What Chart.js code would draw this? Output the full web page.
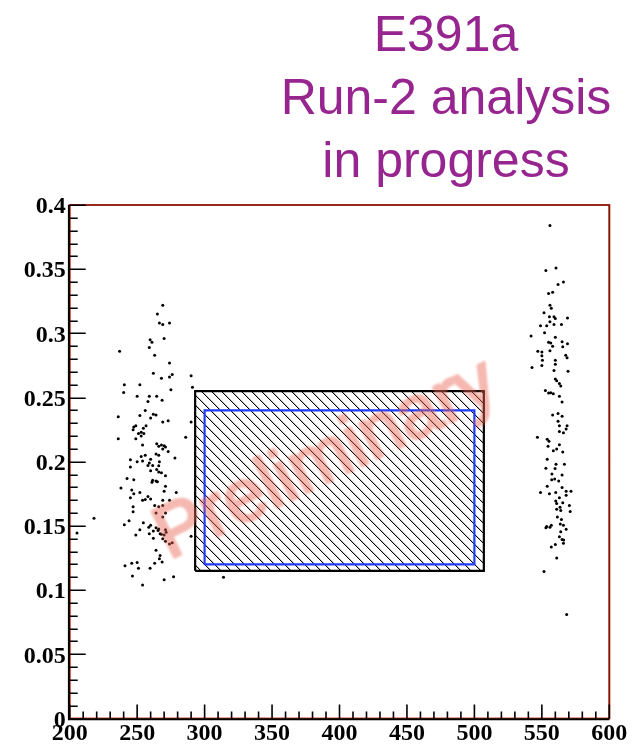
<!DOCTYPE html>
<html>
<head>
<meta charset="utf-8">
<script src="https://cdn.jsdelivr.net/npm/chart.js@4/dist/chart.umd.min.js"></script>
<style>
  html, body { margin: 0; padding: 0; background: #fff; }
  canvas { display: block; }
</style>
</head>
<body>
<canvas id="c" width="634" height="746"></canvas>
<script>
// Axis ticks and labels
const xTicks = [200, 250, 300, 350, 400, 450, 500, 550, 600];
const xTickLabels = ['200', '250', '300', '350', '400', '450', '500', '550', '600'];
const yTicks = [0, 0.05, 0.1, 0.15, 0.2, 0.25, 0.3, 0.35, 0.4];
const yTickLabels = ['0', '0.05', '0.1', '0.15', '0.2', '0.25', '0.3', '0.35', '0.4'];

const titleLines = ['E391a', 'Run-2 analysis', 'in progress'];
const watermark = 'Preliminary';

// Events in the lower sideband
const leftCluster = [
  [269,0.322],[265,0.315],[266.5,0.308],[269,0.307],[274,0.308],[259.6,0.295],[261,0.293],[270,0.296],
  [259,0.289],[237,0.286],[263,0.283],[274,0.277],[262,0.269],[268,0.265],[274,0.266],[276,0.268],
  [290,0.267],[240.5,0.260],[252,0.260],[291,0.258],[240,0.254],[275,0.256],[250,0.251],[259,0.251],
  [264.5,0.251],[268.5,0.248],[258,0.247],[256,0.240],[236,0.235],[252,0.236],[262,0.237],[264,0.2365],
  [260,0.234],[269,0.231],[273,0.232],[290,0.231],[249,0.228],[247.5,0.227],[256.6,0.228],[247,0.225],
  [254.6,0.226],[253,0.223],[251,0.222],[255,0.222],[236,0.218],[249,0.218],[253,0.220],[286,0.219],
  [254,0.213],[264.5,0.214],[268,0.213],[270,0.2125],[266,0.212],[271,0.2115],[269,0.210],[273,0.208],
  [264,0.206],[266,0.205],[256,0.205],[253,0.204],[250,0.200],[278,0.203],[254,0.2005],[260,0.202],
  [259,0.199],[266.5,0.200],[245,0.2015],[245,0.196],[258,0.197],[261.5,0.197],[266,0.1968],[260,0.193],
  [264.5,0.194],[266,0.192],[268,0.1915],[271,0.189],[242.5,0.187],[247.5,0.186],[261.5,0.1855],[264,0.185],
  [265,0.1845],[261,0.184],[238,0.1795],[252,0.176],[270,0.177],[271,0.181],[246,0.178],[247.5,0.175],
  [245,0.172],[258,0.173],[256,0.1705],[254,0.170],[260,0.171],[269,0.170],[274,0.170],[279,0.176],
  [247,0.165],[247,0.161],[263,0.166],[266,0.165],[269,0.166],[264,0.160],[269,0.157],[271,0.160],
  [244,0.154],[240.5,0.151],[254.6,0.1525],[260,0.1505],[258.6,0.149],[264,0.1486],[266,0.1476],[262,0.146],
  [265.5,0.1465],[271,0.147],[252,0.147],[249,0.143],[259,0.144],[267,0.144],[268,0.1435],[270,0.143],
  [271.5,0.145],[262,0.1405],[269,0.140],[271,0.138],[274,0.136],[276,0.137],[290,0.142],[264,0.131],
  [267,0.127],[266.5,0.1245],[268.5,0.122],[263,0.121],[241,0.119],[246,0.121],[250,0.1215],[251,0.117],
  [259.6,0.117],[246.5,0.111],[270,0.108],[277,0.1105],[254,0.104],[314,0.110],[218,0.156],[205.4,0.1445]
];

// Events in the upper sideband
const rightCluster = [
  [556,0.384],[553,0.349],[560.5,0.351],[562,0.338],[566,0.340],[555,0.331],[558,0.332],[556,0.322],
  [557,0.3195],[551.6,0.316],[555.6,0.313],[559,0.313],[560,0.3115],[569,0.312],[556,0.309],[549,0.306],
  [553.6,0.306],[559,0.307],[564.5,0.307],[542,0.298],[552,0.3005],[560,0.297],[555,0.293],[556.6,0.2925],
  [558,0.290],[565,0.2935],[565.5,0.2895],[569,0.292],[547,0.286],[550,0.2855],[550,0.2825],[556,0.2865],
  [567.7,0.283],[568.7,0.281],[550.4,0.279],[560,0.279],[560,0.276],[550,0.275],[542.7,0.2735],[559,0.271],
  [569.4,0.2705],[560,0.2645],[561,0.263],[563,0.261],[564,0.259],[552.6,0.2555],[555,0.2535],[556.6,0.2538],
  [558.5,0.253],[563,0.251],[565,0.2465],[558,0.2365],[562,0.2375],[565,0.2355],[562,0.2315],[563,0.228],
  [568.7,0.228],[568,0.2255],[563,0.2235],[566,0.2225],[546.7,0.219],[554,0.2175],[555.3,0.216],[554.6,0.212],
  [563,0.2133],[561,0.210],[558.5,0.2086],[565.5,0.2075],[554,0.202],[560.5,0.198],[566.7,0.198],[553,0.195],
  [559.8,0.1948],[557.5,0.1905],[565,0.1897],[557.3,0.186],[559.5,0.1865],[562.5,0.185],[554,0.181],[565,0.180],
  [549,0.176],[555.6,0.175],[560.3,0.176],[568,0.177],[571.6,0.177],[568,0.174],[563,0.172],[560.3,0.1695],
  [565.5,0.168],[561,0.1675],[563.5,0.1645],[570.4,0.166],[561,0.163],[564,0.162],[571,0.1613],[561.5,0.157],
  [564.5,0.155],[563.7,0.1515],[566,0.1505],[557,0.1505],[556,0.149],[553.6,0.1495],[553,0.1485],[568,0.1475],
  [564,0.1455],[563,0.1415],[565,0.1395],[566.2,0.139],[566,0.1365],[560,0.1355],[557,0.1335],[561,0.125],
  [551.6,0.1145],[568.4,0.081]
];

// Blind region (hatched) and signal region (blue)
const blindBoxX = [293, 507];
const blindBoxY = [0.115, 0.255];
const signalBoxX = [300, 500];
const signalBoxY = [0.12, 0.24];

const toPoints = arr => arr.map(([x, y]) => ({ x, y }));
const rectPath = (xs, ys) => [
  { x: xs[0], y: ys[0] }, { x: xs[0], y: ys[1] }, { x: xs[1], y: ys[1] },
  { x: xs[1], y: ys[0] }, { x: xs[0], y: ys[0] }
];

const canvas = document.getElementById('c');
const mainCtx = canvas.getContext('2d');

// 45-degree "\" hatch built from a pixel staircase so the lines stay crisp
function hatchPattern() {
  const s = 10;
  const tile = document.createElement('canvas');
  tile.width = s; tile.height = s;
  const g = tile.getContext('2d');
  for (let i = 0; i < s; i++) {
    g.fillStyle = '#000';
    g.fillRect(i, i, 1, 1);
    g.fillStyle = 'rgba(0,0,0,0.25)';
    g.fillRect((i + 1) % s, i, 1, 1);
  }
  return mainCtx.createPattern(tile, 'repeat');
}

const TITLE_FONT = '"Liberation Sans", Arial, sans-serif';
const LABEL_FONT = { family: '"Liberation Serif", "Times New Roman", serif', size: 24, weight: 'bold' };

// Frame, axis lines and inward ticks
const frameAndTicks = {
  id: 'frameAndTicks',
  afterDatasetsDraw(chart) {
    const { ctx, chartArea: a, scales: { x, y } } = chart;
    ctx.save();
    ctx.lineCap = 'butt';
    ctx.strokeStyle = '#d2402a';
    ctx.lineWidth = 2.2;
    ctx.beginPath();
    ctx.moveTo(a.left, a.bottom + 1);
    ctx.lineTo(a.left, a.top);
    ctx.lineTo(a.right, a.top);
    ctx.lineTo(a.right, a.bottom);
    ctx.lineTo(a.left, a.bottom);
    ctx.stroke();
    ctx.strokeStyle = '#4a1008';
    ctx.lineWidth = 0.9;
    ctx.beginPath();
    ctx.moveTo(a.left, a.top);
    ctx.lineTo(a.right, a.top);
    ctx.lineTo(a.right, a.bottom);
    ctx.stroke();
    // axis lines
    ctx.strokeStyle = '#000';
    ctx.lineWidth = 2;
    ctx.beginPath();
    ctx.moveTo(a.left - 0.8, a.top);
    ctx.lineTo(a.left - 0.8, a.bottom + 0.8);
    ctx.lineTo(a.right, a.bottom + 0.8);
    ctx.stroke();
    // inward ticks, four minor divisions per labelled step
    ctx.lineWidth = 1.6;
    ctx.beginPath();
    const yMin = yTicks[0], yMax = yTicks[yTicks.length - 1];
    const yStep = (yTicks[1] - yTicks[0]) / 5;
    for (let i = 0; yMin + i * yStep <= yMax + 1e-9; i++) {
      const py = Math.round(y.getPixelForValue(yMin + i * yStep)) + 0.2;
      const len = i % 5 === 0 ? 16 : 8;
      ctx.moveTo(a.left, py);
      ctx.lineTo(a.left + len, py);
    }
    const xMin = xTicks[0], xMax = xTicks[xTicks.length - 1];
    const xStep = (xTicks[1] - xTicks[0]) / 5;
    for (let i = 0; xMin + i * xStep <= xMax + 1e-9; i++) {
      const px = x.getPixelForValue(xMin + i * xStep);
      const len = i % 5 === 0 ? 14 : 7;
      ctx.moveTo(px, a.bottom);
      ctx.lineTo(px, a.bottom - len);
    }
    ctx.stroke();
    ctx.restore();
  }
};

// Header text and the diagonal watermark
const annotations = {
  id: 'annotations',
  afterDraw(chart) {
    const { ctx, chartArea: a, width, height } = chart;
    ctx.save();
    ctx.fillStyle = '#97258f';
    ctx.font = `50px ${TITLE_FONT}`;
    ctx.textAlign = 'center';
    ctx.textBaseline = 'alphabetic';
    const cx = 446;
    titleLines.forEach((t, i) => ctx.fillText(t, cx, 51 + i * 63));
    ctx.restore();

    // watermark is drawn opaque off-screen, then laid over with transparency
    const off = document.createElement('canvas');
    off.width = width; off.height = height;
    const g = off.getContext('2d');
    const ox = a.left + 0.184 * (a.right - a.left);
    const oy = a.top + 0.691 * (a.bottom - a.top);
    g.translate(ox, oy);
    g.rotate(-26 * Math.PI / 180);
    g.font = `74px ${TITLE_FONT}`;
    g.textAlign = 'left';
    g.textBaseline = 'alphabetic';
    g.fillStyle = 'rgb(232, 100, 82)';
    g.strokeStyle = 'rgb(232, 100, 82)';
    g.lineWidth = 3;
    g.lineJoin = 'round';
    g.fillText(watermark, 0, 0);
    g.strokeText(watermark, 0, 0);

    ctx.save();
    ctx.globalAlpha = 0.45;
    ctx.filter = 'blur(1.2px)';
    ctx.drawImage(off, 0, 0);
    ctx.restore();
  }
};

new Chart(canvas, {
  type: 'scatter',
  data: {
    datasets: [
      {
        data: toPoints(leftCluster),
        pointRadius: 1.5, pointHoverRadius: 1.5, borderWidth: 0,
        backgroundColor: '#000', pointStyle: 'circle', order: 0
      },
      {
        data: toPoints(rightCluster),
        pointRadius: 1.5, pointHoverRadius: 1.5, borderWidth: 0,
        backgroundColor: '#000', pointStyle: 'circle', order: 1
      },
      {
        type: 'line',
        data: rectPath(signalBoxX, signalBoxY),
        borderColor: '#1f3cff', borderWidth: 2.2, pointRadius: 0,
        fill: false, tension: 0, order: 2
      },
      {
        type: 'line',
        data: rectPath(blindBoxX, blindBoxY),
        borderColor: '#000', borderWidth: 2.2, pointRadius: 0,
        backgroundColor: hatchPattern(), fill: 'shape', tension: 0, order: 3
      }
    ]
  },
  options: {
    responsive: false,
    animation: false,
    devicePixelRatio: 1,
    layout: { padding: { top: 205, right: 24.7, left: 0, bottom: 0 } },
    plugins: { legend: { display: false }, tooltip: { enabled: false }, title: { display: false } },
    events: [],
    scales: {
      x: {
        type: 'linear',
        min: xTicks[0], max: xTicks[xTicks.length - 1],
        grid: { display: false, drawTicks: false, tickLength: 0 },
        border: { display: false },
        afterBuildTicks: s => { s.ticks = xTicks.map(v => ({ value: v })); },
        afterFit: s => { s.height = 27.5; },
        ticks: {
          autoSkip: false, maxRotation: 0, padding: 1, color: '#000', font: LABEL_FONT,
          callback: (v) => xTickLabels[xTicks.indexOf(v)]
        }
      },
      y: {
        type: 'linear',
        min: yTicks[0], max: yTicks[yTicks.length - 1],
        grid: { display: false, drawTicks: false, tickLength: 0 },
        border: { display: false },
        afterBuildTicks: s => { s.ticks = yTicks.map(v => ({ value: v })); },
        afterFit: s => { s.width = 69.7; },
        ticks: {
          autoSkip: false, padding: 4, labelOffset: 2, color: '#000', font: LABEL_FONT,
          callback: (v) => yTickLabels[yTicks.findIndex(t => Math.abs(t - v) < 1e-9)]
        }
      }
    }
  },
  plugins: [frameAndTicks, annotations]
});
</script>
</body>
</html>
